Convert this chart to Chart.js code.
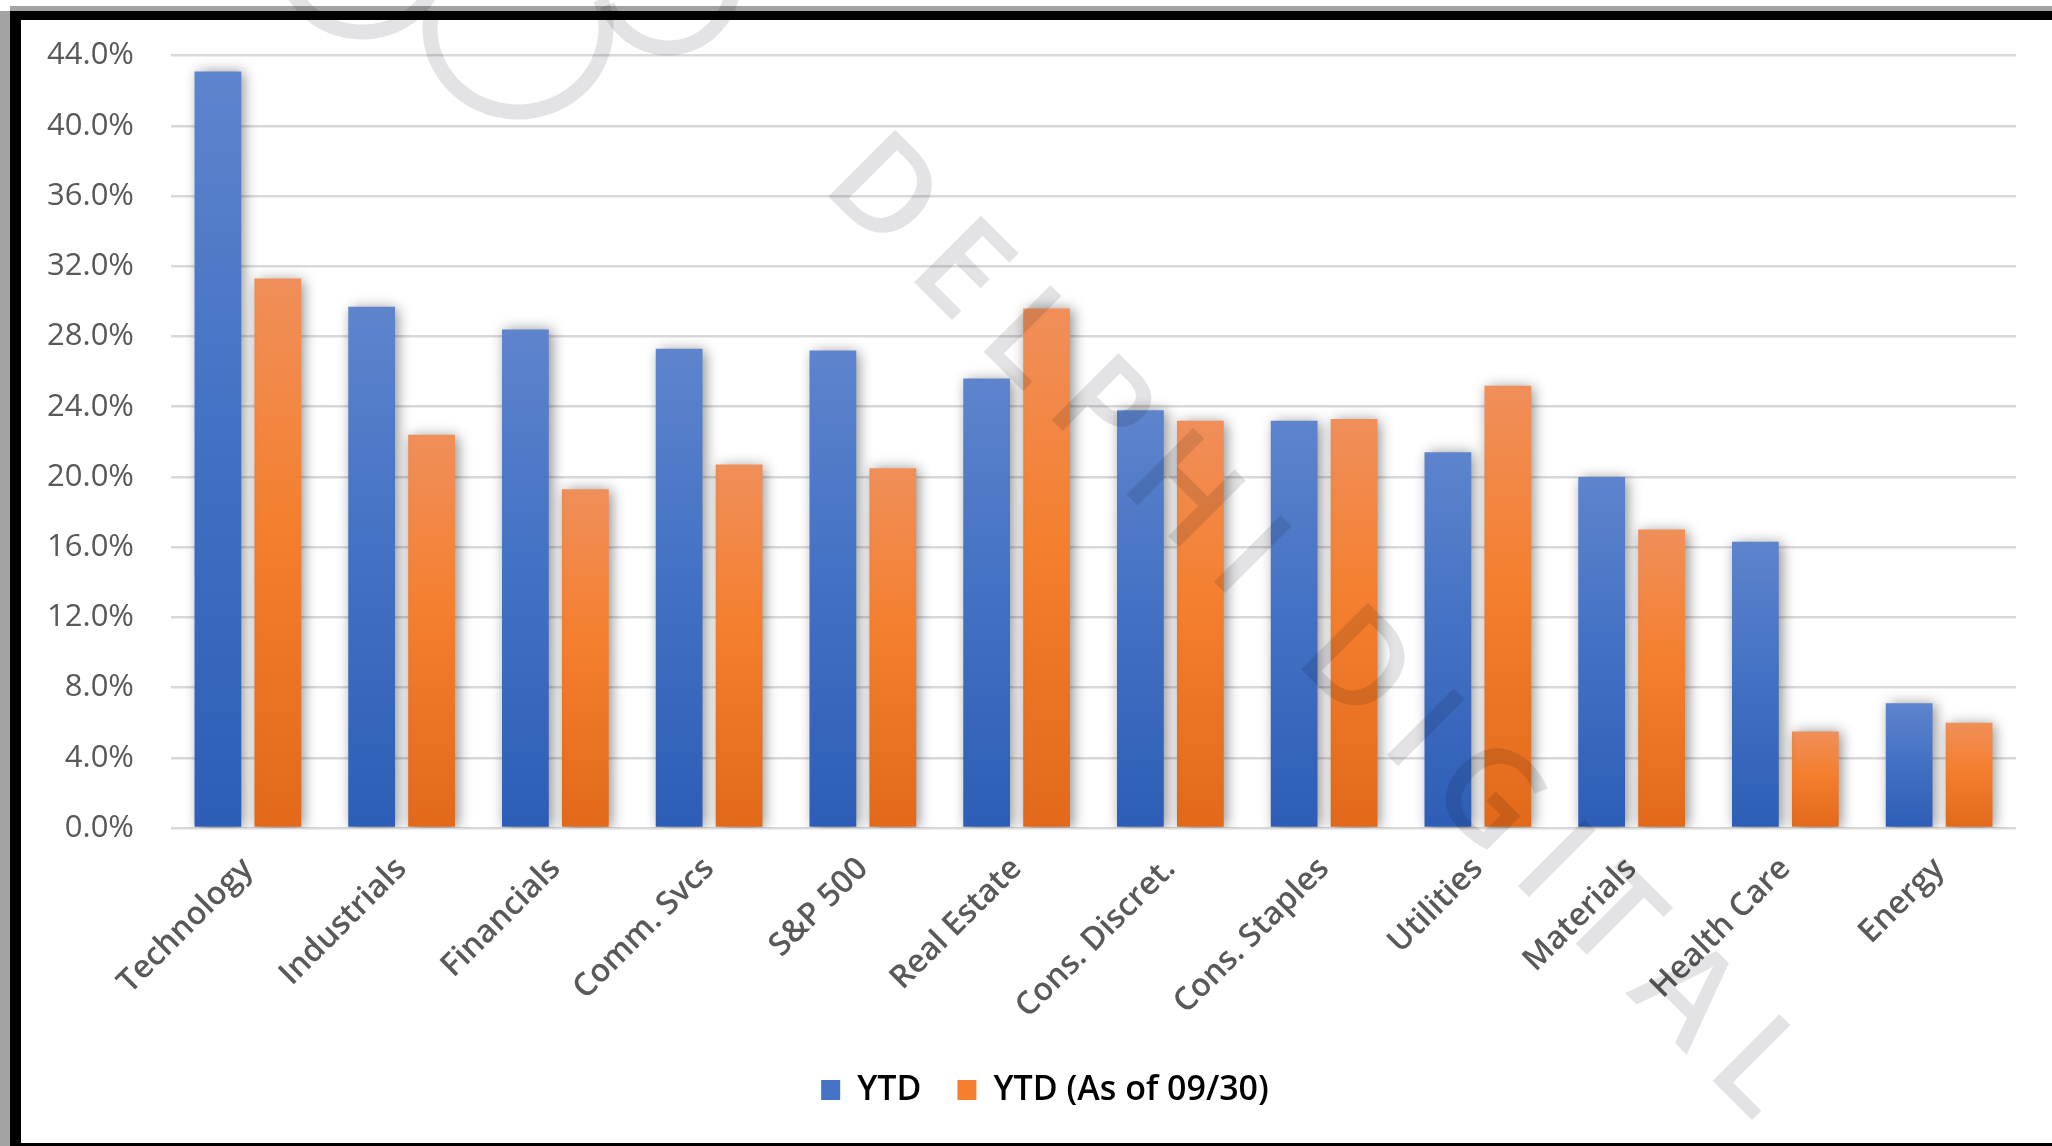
<!DOCTYPE html>
<html>
<head>
<meta charset="utf-8">
<title>Sector Returns YTD</title>
<script src="https://cdn.jsdelivr.net/npm/chart.js@4.4.1/dist/chart.umd.min.js"></script>
<style>
    html, body { margin: 0; padding: 0; background: #ffffff; }
    #wrap { position: relative; width: 2052px; height: 1146px; overflow: hidden; }
    canvas { display: block; }
</style>
</head>
<body>
<div id="wrap"><canvas id="sectors" width="2052" height="1146"></canvas></div>
<script>
// ===== DATA =====
const sectors = ['Technology', 'Industrials', 'Financials', 'Comm. Svcs', 'S&P 500', 'Real Estate',
    'Cons. Discret.', 'Cons. Staples', 'Utilities', 'Materials', 'Health Care', 'Energy'];
const ytd = [43.1, 29.7, 28.4, 27.3, 27.2, 25.6, 23.8, 23.2, 21.4, 20.0, 16.3, 7.1];
const ytdSep30 = [31.3, 22.4, 19.3, 20.7, 20.5, 29.6, 23.2, 23.3, 25.2, 17.0, 5.5, 6.0];
const seriesNames = ['YTD', 'YTD (As of 09/30)'];
const yTicks = [0, 4, 8, 12, 16, 20, 24, 28, 32, 36, 40, 44];

const TEXT = '#595959';
const FONT = "'Open Sans', 'Liberation Sans', sans-serif";

// top / middle / bottom stops for each series
const blueStops = ['#5e84cd', '#4472c4', '#2d5db6'];
const orangeStops = ['#f08f5a', '#f47f2e', '#e2691a'];

/**
 * Build a vertical gradient for one bar, running from its top down to zero
 */
function barGradient(stops) {
    return function(context) {
        const chart = context.chart;
        const y = chart.scales.y;
        if (context.type !== 'data' || !y) {
            return stops[1];
        }
        const top = y.getPixelForValue(context.raw);
        const bottom = y.getPixelForValue(0);
        if (!isFinite(top) || !isFinite(bottom) || top === bottom) {
            return stops[1];
        }
        const g = chart.ctx.createLinearGradient(0, top, 0, bottom);
        g.addColorStop(0, stops[0]);
        g.addColorStop(0.45, stops[1]);
        g.addColorStop(1, stops[2]);
        return g;
    };
}

// frame round the whole picture
const framePlugin = {
    id: 'frame',
    beforeDraw(chart) {
        const ctx = chart.ctx;
        const w = chart.width, h = chart.height;
        ctx.save();
        ctx.fillStyle = '#ffffff';
        ctx.fillRect(0, 0, w, h);
        ctx.fillStyle = '#a3a3a3';
        ctx.fillRect(10, 6, w - 10, 5);
        ctx.fillRect(0, 11, 10, h - 11);
        ctx.fillStyle = '#000000';
        ctx.fillRect(10, 11, w - 10, 9);
        ctx.fillRect(10, 11, 11, h - 11);
        ctx.fillRect(10, 1143, w - 10, 3);
        ctx.restore();
    }
};

// nudge the legend so it sits centred under the frame rather than the canvas
const legendShiftPlugin = {
    id: 'legendShift',
    afterLayout(chart) {
        if (chart.legend) {
            chart.legend.left += 37;
            chart.legend.right += 37;
        }
    }
};

// soft drop shadow under the bars
const shadowPlugin = {
    id: 'barShadow',
    beforeDatasetsDraw(chart) {
        const ctx = chart.ctx;
        ctx.save();
        ctx.shadowColor = 'rgba(0, 0, 0, 0.45)';
        ctx.shadowBlur = 13;
        ctx.shadowOffsetX = 3;
        ctx.shadowOffsetY = 1;
    },
    afterDatasetsDraw(chart) {
        chart.ctx.restore();
    }
};

// diagonal watermark (logo rings plus lettering) laid over the chart
const watermarkPlugin = {
    id: 'watermark',
    afterDraw(chart) {
        const ctx = chart.ctx;
        const size = 132;
        ctx.save();
        ctx.globalCompositeOperation = 'multiply';
        ctx.fillStyle = '#e3e3e5';
        ctx.strokeStyle = '#e3e3e5';

        // logo rings at the top left
        ctx.lineWidth = 15;
        ctx.beginPath();
        ctx.ellipse(362, -42, 78, 74, 0, 0.15, Math.PI - 0.1);
        ctx.stroke();
        ctx.beginPath();
        ctx.ellipse(518, 28, 88, 84, 0, -0.35, Math.PI + 0.2);
        ctx.stroke();
        ctx.beginPath();
        ctx.ellipse(668, -22, 66, 70, 0, 0.05, Math.PI - 0.4);
        ctx.stroke();

        ctx.font = '600 ' + size + 'px ' + FONT;
        ctx.textBaseline = 'alphabetic';
        ctx.translate(975, 343);
        ctx.rotate(Math.PI / 4);

        const head = 'DE';
        const tail = 'LPHI DIGITAL';
        // spread the tail so its last letter lands 1031px along the baseline
        const inner = tail.slice(0, -1);
        let innerWidth = 0;
        for (const ch of inner) innerWidth += ctx.measureText(ch).width;
        const gap = (1031 - innerWidth) / inner.length;

        let x = 0;
        for (let i = head.length - 1; i >= 0; i--) {
            x -= ctx.measureText(head[i]).width + gap;
            ctx.fillText(head[i], x, 0);
        }
        x = 0;
        for (const ch of tail) {
            ctx.fillText(ch, x, 0);
            x += ctx.measureText(ch).width + gap;
        }
        ctx.restore();
    }
};

const chart = new Chart(document.getElementById('sectors'), {
    type: 'bar',
    data: {
        labels: sectors,
        datasets: [{
            label: seriesNames[0],
            data: ytd,
            backgroundColor: barGradient(blueStops),
            borderWidth: 0,
            categoryPercentage: 0.78,
            barPercentage: 0.78
        }, {
            label: seriesNames[1],
            data: ytdSep30,
            backgroundColor: barGradient(orangeStops),
            borderWidth: 0,
            categoryPercentage: 0.78,
            barPercentage: 0.78
        }]
    },
    options: {
        responsive: false,
        animation: false,
        devicePixelRatio: 1,
        layout: {
            padding: { top: 55, right: 36, bottom: 29, left: 0 }
        },
        scales: {
            x: {
                grid: { display: false, drawTicks: false },
                border: { display: false },
                ticks: {
                    color: TEXT,
                    font: { family: FONT, size: 32, weight: '600' },
                    minRotation: 45,
                    maxRotation: 45,
                    autoSkip: false,
                    padding: 22
                },
                afterFit(scale) {
                    scale.height = 209;
                }
            },
            y: {
                min: 0,
                max: 44,
                afterBuildTicks(scale) {
                    scale.ticks = yTicks.map(v => ({ value: v }));
                },
                grid: { color: '#d9d9d9', lineWidth: 2.5, drawTicks: false },
                border: { display: false },
                ticks: {
                    color: TEXT,
                    font: { family: FONT, size: 31 },
                    padding: 37,
                    callback: v => v.toFixed(1) + '%'
                },
                afterFit(scale) {
                    scale.width = 171;
                }
            }
        },
        plugins: {
            legend: {
                position: 'bottom',
                labels: {
                    color: TEXT,
                    font: { family: FONT, size: 34, weight: '600' },
                    boxWidth: 19,
                    boxHeight: 20,
                    padding: 36,
                    generateLabels(ch) {
                        return ch.data.datasets.map((ds, i) => ({
                            text: ds.label,
                            fillStyle: i === 0 ? blueStops[1] : orangeStops[1],
                            strokeStyle: 'transparent',
                            lineWidth: 0,
                            hidden: !ch.isDatasetVisible(i),
                            datasetIndex: i
                        }));
                    }
                }
            },
            tooltip: { enabled: false }
        }
    },
    plugins: [framePlugin, legendShiftPlugin, shadowPlugin, watermarkPlugin]
});
</script>
</body>
</html>
